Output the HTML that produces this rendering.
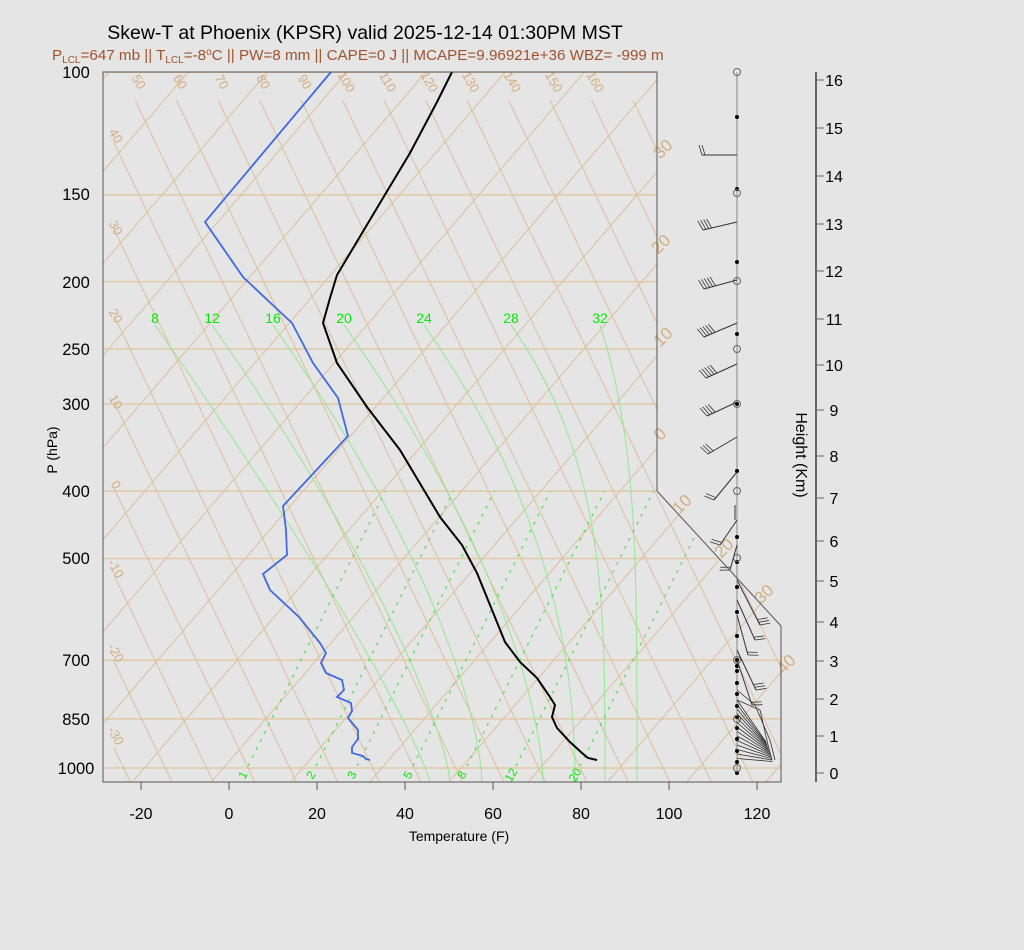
<!DOCTYPE html>
<html><head><meta charset="utf-8">
<style>
html,body{margin:0;padding:0;background:#e5e5e5;}
svg{display:block;font-family:"Liberation Sans",Arial,sans-serif;}
</style></head>
<body>
<svg id="s" width="1024" height="950" viewBox="0 0 1024 950" xmlns="http://www.w3.org/2000/svg">
<rect width="1024" height="950" fill="#e5e5e5"/>
<defs>
<clipPath id="cp"><polygon points="103,72 657,72 657,491 781,626 781,782 103,782"/></clipPath>
<clipPath id="cpa"><polygon points="114,98 657,98 657,491 781,626 781,782 114,782"/></clipPath>
</defs>
<g id="grid" clip-path="url(#cp)"></g>
<g id="adi" clip-path="url(#cpa)"></g>
<g id="moist" clip-path="url(#cp)"></g>
<g id="labels"></g>
<g id="data"></g>
<polygon points="103,72 657,72 657,491 781,626 781,782 103,782" fill="none" stroke="#555" stroke-width="1"/>
<text x="365" y="39" font-size="19.5" text-anchor="middle" fill="#000">Skew-T at Phoenix (KPSR) valid 2025-12-14 01:30PM MST</text>
<text x="52" y="60" font-size="15.2" fill="#a0522d">P<tspan font-size="10" dy="3">LCL</tspan><tspan dy="-3">=647 mb || T</tspan><tspan font-size="10" dy="3">LCL</tspan><tspan dy="-3">=-8</tspan><tspan font-size="10" dy="-5">o</tspan><tspan dy="5">C || PW=8 mm || CAPE=0 J || MCAPE=9.96921e+36 WBZ= -999 m</tspan></text>
<text x="459" y="841" font-size="14" text-anchor="middle">Temperature (F)</text>
<text transform="translate(57,450) rotate(-90)" font-size="14" text-anchor="middle">P (hPa)</text>
<text transform="translate(796,455) rotate(90)" font-size="16" text-anchor="middle">Height (Km)</text>
</svg>
<script>
var NS="http://www.w3.org/2000/svg";
function el(p,t,a,txt){var e=document.createElementNS(NS,t);for(var k in a)e.setAttribute(k,a[k]);if(txt!==undefined)e.textContent=txt;document.getElementById(p).appendChild(e);return e;}
function Y(p){return 768-302.2*Math.log(1000/p);}
[100,150,200,250,300,400,500,700,850,1000].forEach(function(p){var y=Y(p);el("grid","line",{x1:103,y1:y,x2:781,y2:y,stroke:"#e2c9a8","stroke-width":1.5});});
for(var tc=-120;tc<=60;tc+=10){var tf=tc*1.8+32;var xb=229+4.4*tf;el("grid","line",{x1:xb,y1:782,x2:xb+0.86*710,y2:72,stroke:"#dcbf9c","stroke-width":1});}
for(var th=-60;th<=260;th+=10){var xt=135+4.15*(th-50);el("adi","line",{x1:xt,y1:100,x2:xt+0.48*682,y2:782,stroke:"#dcbf9c","stroke-width":1});}
for(var th=50;th<=160;th+=10){var x=135+4.15*(th-50);el("labels","text",{x:x,y:84,"font-size":13,fill:"#d4ad80","text-anchor":"middle",transform:"rotate(60 "+x+" 84)"},String(th));}
[[40,138],[30,230],[20,318],[10,404],[0,487],[-10,571],[-20,655],[-30,738]].forEach(function(a){el("labels","text",{x:112,y:a[1],"font-size":13,fill:"#d4ad80","text-anchor":"middle",transform:"rotate(60 112 "+a[1]+")"},String(a[0]));});
[[30,667,153],[20,665,248],[10,667,341],[0,664,438],[10,686,508],[20,728,552],[30,768,598],[40,790,668]].forEach(function(a){el("labels","text",{x:a[1],y:a[2],"font-size":17,fill:"#d4ad80","text-anchor":"middle",transform:"rotate(-45 "+a[1]+" "+a[2]+")"},String(a[0]));});
var mc=[[8,155,430],[12,212,450],[16,273,482],[20,344,543],[24,424,575],[28,511,605],[32,600,637]];
mc.forEach(function(m){var xt=m[1],xb=m[2];var k=Math.min(Math.max(0.7*457/(xb-xt),1),4);var d="";for(var y=325;y<=782;y+=4){var f=(782-y)/457;var x=xb-(xb-xt)*Math.pow(f,k);d+=(y==325?"M":"L")+x.toFixed(1)+","+y;}
el("moist","path",{d:d,fill:"none",stroke:"#8fe88f","stroke-width":1});
el("labels","text",{x:xt,y:323,"font-size":14,fill:"#00ee00","text-anchor":"middle"},String(m[0]));});
[[1,243],[2,311],[3,352],[5,408],[8,462],[12,511],[20,575]].forEach(function(m){var x0=m[1]+5;el("moist","line",{x1:x0,y1:766,x2:x0+0.5*(766-491),y2:491,stroke:"#33dd33","stroke-width":1,"stroke-dasharray":"3,6"});
el("labels","text",{x:m[1],y:779,"font-size":12,fill:"#00ee00","text-anchor":"middle",transform:"rotate(-60 "+m[1]+" 775)"},String(m[0]));});
var T=[[452,72],[437,102],[410,153],[380,203],[337,275],[330,298],[323,323],[337,363],[367,407],[400,450],[440,517],[462,545],[477,573],[490,605],[505,642],[520,662],[537,678],[550,697],[555,705],[552,717],[557,728],[570,742],[582,753],[588,758],[597,760]];
el("data","polyline",{points:T.join(" "),fill:"none",stroke:"#000","stroke-width":2});
var D=[[331,72],[205,222],[243,277],[278,310],[292,323],[313,363],[338,398],[348,436],[283,506],[286,530],[287,555],[263,574],[270,590],[299,617],[320,643],[326,653],[321,663],[326,673],[342,680],[344,690],[337,697],[351,703],[352,711],[348,718],[358,730],[358,739],[352,747],[352,753],[363,756],[366,759],[370,760]];
el("data","polyline",{points:D.join(" "),fill:"none",stroke:"#4169e1","stroke-width":1.8});
[[100,72],[150,194],[200,282],[250,349],[300,404],[400,491],[500,558],[700,660],[850,719],[1000,768]].forEach(function(a){el("labels","text",{x:76,y:a[1]+6,"font-size":16.5,"text-anchor":"middle"},String(a[0]));});
for(var t=-20;t<=120;t+=20){var x=229+4.4*t;el("labels","line",{x1:x,y1:782,x2:x,y2:790,stroke:"#555"});el("labels","text",{x:x,y:819,"font-size":16,"text-anchor":"middle"},String(t));}
el("labels","line",{x1:816,y1:72,x2:816,y2:782,stroke:"#666","stroke-width":2});
var H=[773,736,699,661,622,581,541,498,456,410,365,319,271,224,176,128,80];
H.forEach(function(y,i){el("labels","line",{x1:816,y1:y,x2:824,y2:y,stroke:"#666"});el("labels","text",{x:834,y:y+6,"font-size":16,"text-anchor":"middle"},String(i));});
el("data","line",{x1:737,y1:72,x2:737,y2:775,stroke:"#888","stroke-width":1});
[117,189,262,334,404,471,537,562,587,612,636,660,666,671,683,694,706,717,728,739,751,762,773].forEach(function(y){el("data","circle",{cx:737,cy:y,r:2,fill:"#000"});});
[72,193,281,349,404,491,558,660,719,768].forEach(function(y){el("data","circle",{cx:737,cy:y,r:3.5,fill:"none",stroke:"#666"});});
function barb(x0,y0,x1,y1,n){el("data","line",{x1:x0,y1:y0,x2:x1,y2:y1,stroke:"#333","stroke-width":1});var dx=x0-x1,dy=y0-y1,L=Math.hypot(dx,dy),ux=dx/L,uy=dy/L;var px=-uy,py=ux;if(py>0){px=-px;py=-py;}
for(var i=0;i<n;i++){var bx=x1+ux*i*3,by=y1+uy*i*3;el("data","line",{x1:bx,y1:by,x2:bx+px*10-ux*3,y2:by+py*10-uy*3,stroke:"#333","stroke-width":0.8});}}
barb(737,155,702,155,2);
barb(737,222,703,230,4);barb(737,280,704,289,5);barb(737,323,704,337,5);barb(737,364,706,378,5);barb(737,402,707,416,4);barb(737,437,708,454,3);barb(737,472,714,500,2);
barb(735,505,735,520,0);barb(737,520,720,545,2);barb(737,545,730,570,2);
barb(737,580,760,625,3);barb(737,600,755,640,2);barb(737,615,748,655,2);barb(737,650,756,690,3);barb(737,660,752,705,2);
for(var i=0;i<14;i++){var y=700+i*4.5;el("data","line",{x1:737,y1:y,x2:766+i*0.5,y2:742+i*1.5,stroke:"#333","stroke-width":0.8});}
el("data","polyline",{points:"737,690 755,705 770,740 775,760",fill:"none",stroke:"#333","stroke-width":0.8});
el("data","polyline",{points:"737,700 760,710 768,745 772,760",fill:"none",stroke:"#333","stroke-width":0.8});
</script>
</body></html>
